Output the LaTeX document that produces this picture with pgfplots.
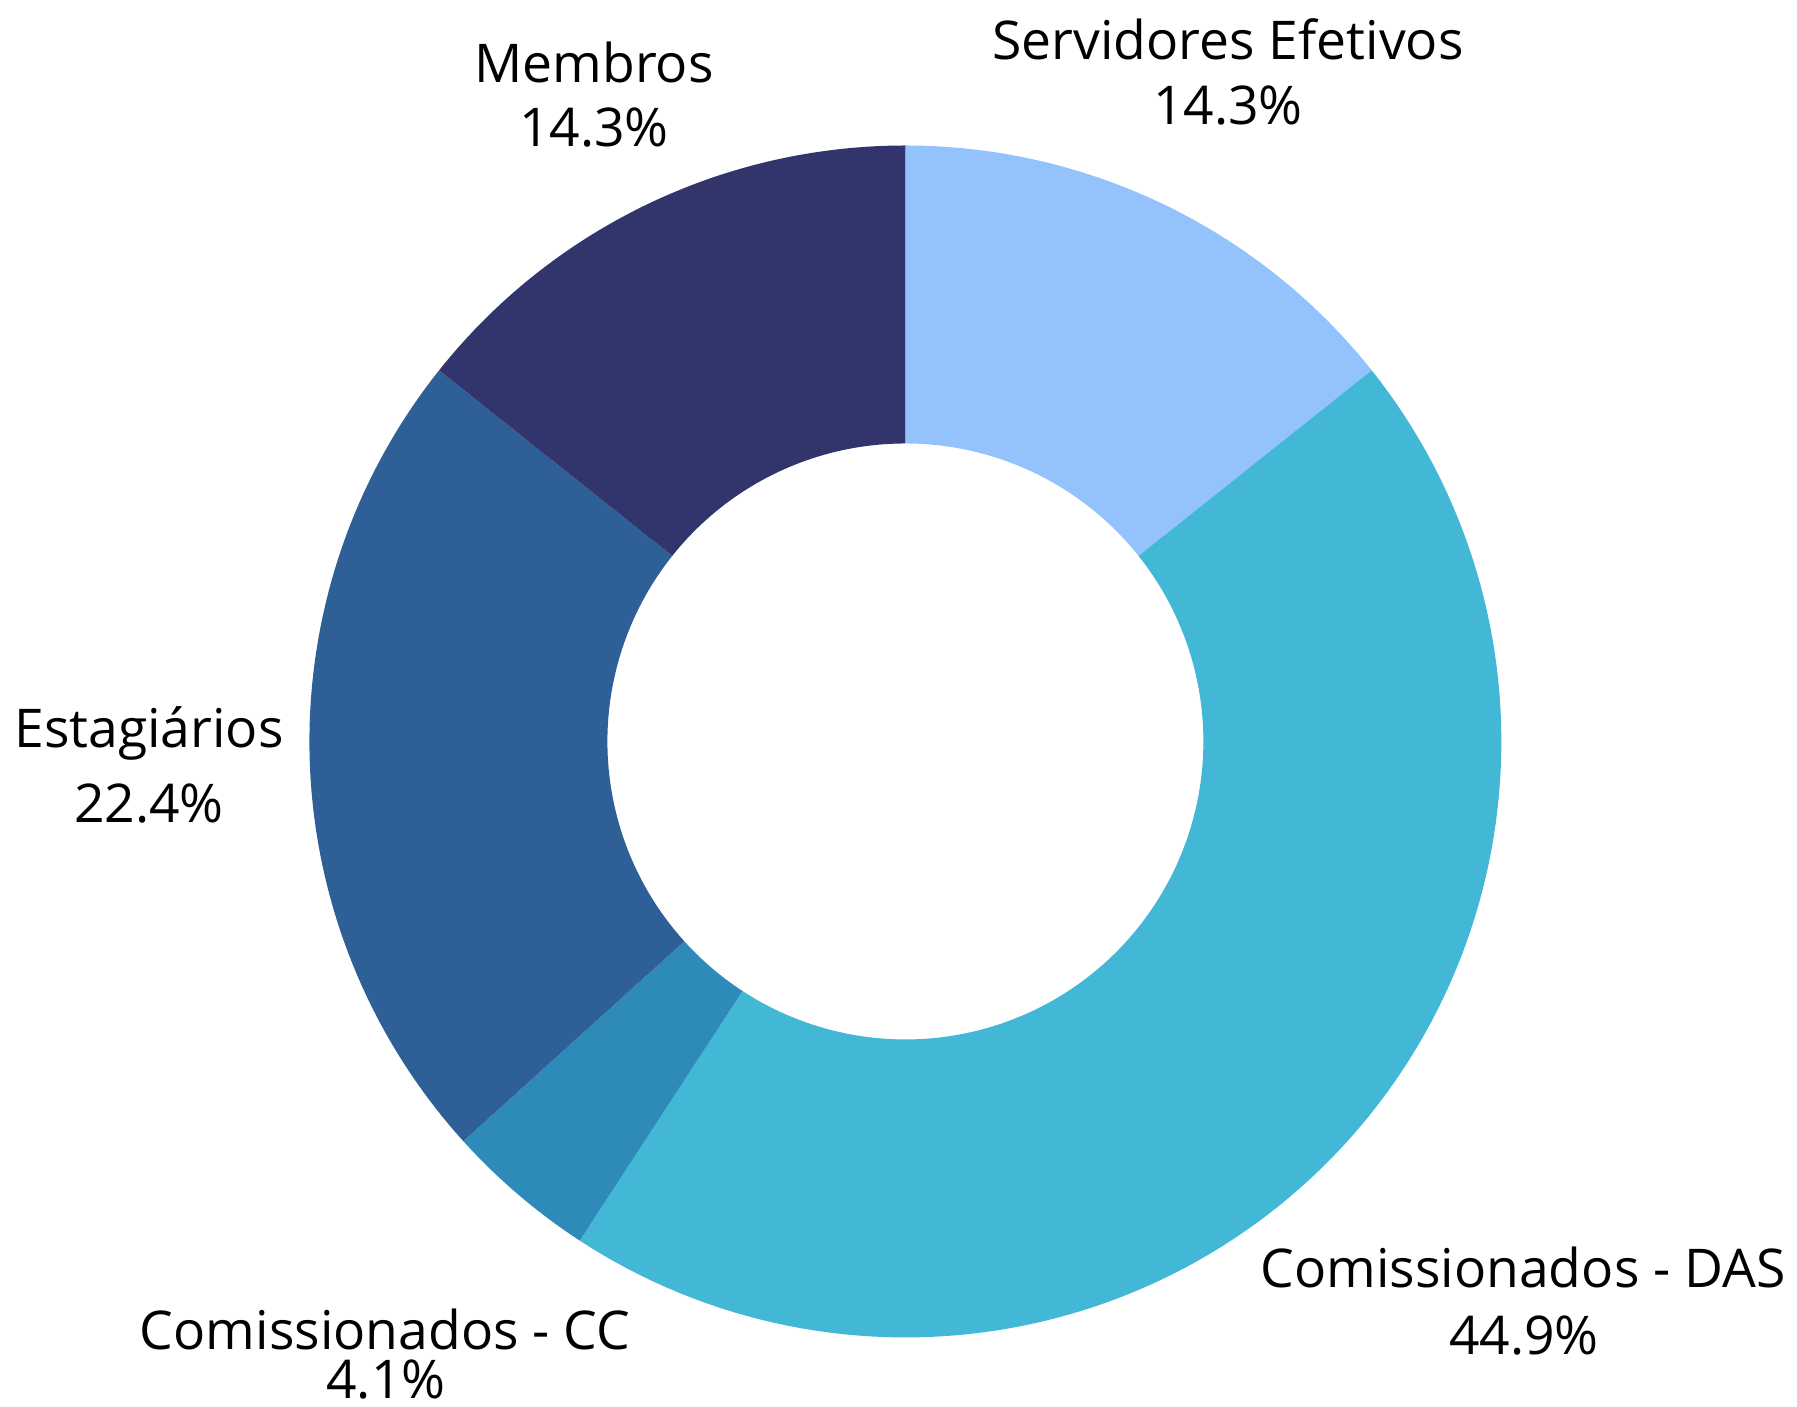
\documentclass[border=0pt]{standalone}
\usepackage{pgfplots}
\pgfplotsset{compat=1.18}
\usepackage{pgfplotstable}
\usepgfplotslibrary{fillbetween}
\usepackage{fontspec}
\setmainfont{Open Sans}
\definecolor{cServ}{HTML}{94C2FC}
\definecolor{cDAS}{HTML}{42B7D6}
\definecolor{cCC}{HTML}{2E8AB8}
\definecolor{cEst}{HTML}{2F5F97}
\definecolor{cMem}{HTML}{31356B}
\pgfplotstableread{
label value
Servidores 14.3
DAS 44.9
CC 4.1
Estagiarios 22.4
Membros 14.3
}\datatable
\begin{document}
\begin{tikzpicture}
\pgfplotstablegetelem{0}{value}\of\datatable \let\vA\pgfplotsretval
\pgfplotstablegetelem{1}{value}\of\datatable \let\vB\pgfplotsretval
\pgfplotstablegetelem{2}{value}\of\datatable \let\vC\pgfplotsretval
\pgfplotstablegetelem{3}{value}\of\datatable \let\vD\pgfplotsretval
\pgfplotstablegetelem{4}{value}\of\datatable \let\vE\pgfplotsretval
\pgfmathsetmacro\aO{90}
\pgfmathsetmacro\aA{\aO-3.6*\vA}
\pgfmathsetmacro\aB{\aA-3.6*\vB}
\pgfmathsetmacro\aC{\aB-3.6*\vC}
\pgfmathsetmacro\aD{\aC-3.6*\vD}
\pgfmathsetmacro\aE{\aD-3.6*\vE}
\def\cx{905.4}
\def\cy{665.5}
\def\RR{596}
\def\rr{298}
\begin{axis}[
  width=179.7mm, height=140.7mm, scale only axis,
  xmin=0, xmax=1797, ymin=0, ymax=1407,
  hide axis, clip=false,
  samples=120,
]
\path (rel axis cs:0,0) rectangle (rel axis cs:1,1);
% Servidores Efetivos
\addplot[draw=none, name path=oA, domain=\aA:\aO] ({\cx+\RR*cos(x)},{\cy+\RR*sin(x)});
\addplot[draw=none, name path=iA, domain=\aA:\aO] ({\cx+\rr*cos(x)},{\cy+\rr*sin(x)});
\addplot[fill=cServ, draw=none] fill between[of=oA and iA];
% DAS
\addplot[draw=none, name path=oB, domain=\aB:\aA] ({\cx+\RR*cos(x)},{\cy+\RR*sin(x)});
\addplot[draw=none, name path=iB, domain=\aB:\aA] ({\cx+\rr*cos(x)},{\cy+\rr*sin(x)});
\addplot[fill=cDAS, draw=none] fill between[of=oB and iB];
% CC
\addplot[draw=none, name path=oC, domain=\aC:\aB] ({\cx+\RR*cos(x)},{\cy+\RR*sin(x)});
\addplot[draw=none, name path=iC, domain=\aC:\aB] ({\cx+\rr*cos(x)},{\cy+\rr*sin(x)});
\addplot[fill=cCC, draw=none] fill between[of=oC and iC];
% Estagiarios
\addplot[draw=none, name path=oD, domain=\aD:\aC] ({\cx+\RR*cos(x)},{\cy+\RR*sin(x)});
\addplot[draw=none, name path=iD, domain=\aD:\aC] ({\cx+\rr*cos(x)},{\cy+\rr*sin(x)});
\addplot[fill=cEst, draw=none] fill between[of=oD and iD];
% Membros
\addplot[draw=none, name path=oE, domain=\aE:\aD] ({\cx+\RR*cos(x)},{\cy+\RR*sin(x)});
\addplot[draw=none, name path=iE, domain=\aE:\aD] ({\cx+\rr*cos(x)},{\cy+\rr*sin(x)});
\addplot[fill=cMem, draw=none] fill between[of=oE and iE];

\tikzset{lbl/.style={anchor=base, inner sep=0pt, font=\fontsize{15.2}{18}\selectfont}}
\node[lbl] at (axis cs:1228,1347) {Servidores Efetivos};
\node[lbl] at (axis cs:1228,1282) {14.3\%};
\node[lbl] at (axis cs:594,1324) {Membros};
\node[lbl] at (axis cs:594,1260) {14.3\%};
\node[lbl] at (axis cs:149,659) {Estagiários};
\node[lbl] at (axis cs:149,584) {22.4\%};
\node[lbl] at (axis cs:1523,119) {Comissionados - DAS};
\node[lbl] at (axis cs:1524,52) {44.9\%};
\node[lbl] at (axis cs:385,57) {Comissionados - CC};
\node[lbl] at (axis cs:386,8) {4.1\%};
\end{axis}
\end{tikzpicture}
\end{document}
